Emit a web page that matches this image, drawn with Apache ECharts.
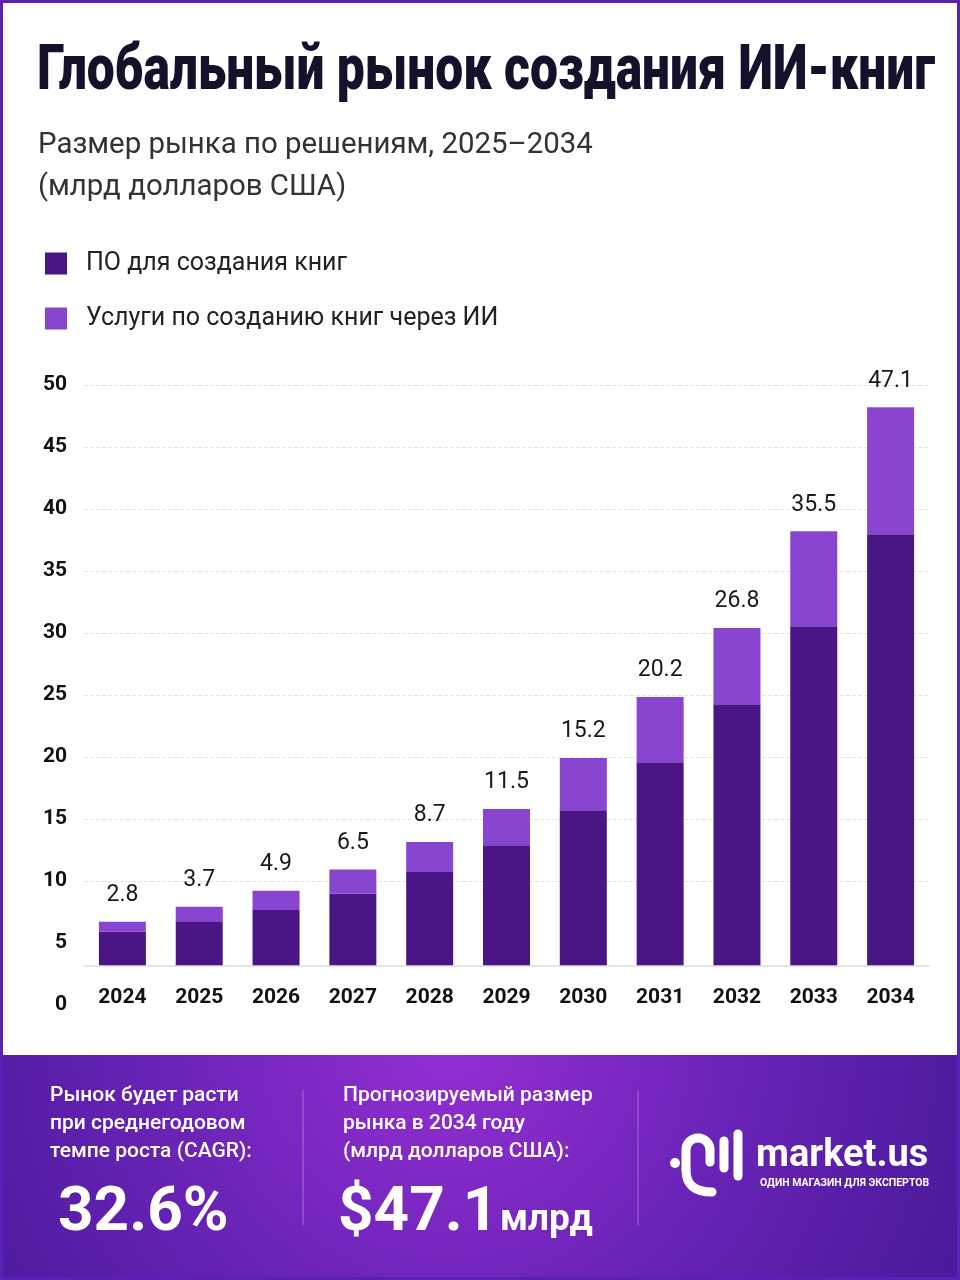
<!DOCTYPE html>
<html>
<head>
<meta charset="utf-8">
<script src="https://cdn.jsdelivr.net/npm/echarts@6/dist/echarts.min.js"></script>
<style>
  html, body { margin: 0; padding: 0; background: #fff; }
  #chart { width: 960px; height: 1280px; }
</style>
</head>
<body>
<div id="chart"></div>
<script>
// данные с картинки
const years = ['2024', '2025', '2026', '2027', '2028', '2029', '2030', '2031', '2032', '2033', '2034'];
// высоты сегментов, как они нарисованы (единицы оси от линии основания)
const software = [2.7, 3.55, 4.46, 5.78, 7.52, 9.68, 12.5, 16.37, 21.05, 27.34, 34.76];
const services = [0.82, 1.18, 1.56, 1.94, 2.42, 2.92, 4.22, 5.27, 6.15, 7.66, 10.24];
// подписи итогов над столбцами
const totals = ['2.8', '3.7', '4.9', '6.5', '8.7', '11.5', '15.2', '20.2', '26.8', '35.5', '47.1'];
const yTicks = [0, 5, 10, 15, 20, 25, 30, 35, 40, 45, 50];

const DARK = '#4a1584';
const LIGHT = '#8a45d0';
const FONT = 'Roboto, "Noto Sans", sans-serif';

const chart = echarts.init(document.getElementById('chart'));

const gridColors = yTicks.map((t, i) => (i < 2 ? 'rgba(0,0,0,0)' : '#e4e4e4'));

// ширина текста, чтобы сжать заголовок до нужной ширины
const measureCtx = document.createElement('canvas').getContext('2d');
function fitScale(text, font, width) {
    measureCtx.font = font;
    return Math.min(1, width / measureCtx.measureText(text).width);
}

// текст для graphic
function txt(x, y, text, font, extra, props) {
    return Object.assign({
        type: 'text', x: x, y: y, z: 10,
        style: Object.assign({ text: text, fill: '#fff', font: font, verticalAlign: 'top', align: 'left' }, extra || {})
    }, props || {});
}

const TITLE = 'Глобальный рынок создания ИИ-книг';
const TITLE_FONT = '900 63px ' + FONT;

const option = {
    backgroundColor: '#ffffff',
    textStyle: { fontFamily: FONT },
    legend: {
        orient: 'vertical',
        left: 45,
        top: 251,
        padding: 0,
        itemWidth: 22,
        itemHeight: 22,
        itemGap: 30,
        icon: 'rect',
        textStyle: { fontSize: 25, color: '#222', padding: [0, 0, 0, 14] },
        data: ['ПО для создания книг', 'Услуги по созданию книг через ИИ']
    },
    grid: {
        left: 84,
        right: 31,
        top: 385,
        bottom: 275,
        containLabel: false
    },
    xAxis: {
        type: 'category',
        data: years,
        axisTick: { show: false },
        axisLine: {
            onZero: true,
            onZeroAxisIndex: 1,
            lineStyle: { color: '#dcdcdc', width: 1.5 }
        },
        axisLabel: { color: '#111', fontSize: 21, fontWeight: 'bold', margin: -18 }
    },
    yAxis: [
        {
            type: 'value',
            min: 0,
            max: 50,
            interval: 5,
            axisLine: { show: false },
            axisTick: { show: false },
            axisLabel: { color: '#111', fontSize: 21, fontWeight: 'bold', margin: 17 },
            splitLine: {
                lineStyle: { color: gridColors, type: 'dashed', width: 1 }
            }
        },
        {
            // скрытая ось для столбцов: основание поднято над нулём
            type: 'value',
            min: -3.2,
            max: 46.8,
            show: false,
            splitLine: { show: false }
        }
    ],
    series: [
        {
            name: 'ПО для создания книг',
            type: 'bar',
            stack: 'total',
            yAxisIndex: 1,
            barWidth: 47,
            itemStyle: { color: DARK },
            data: software
        },
        {
            name: 'Услуги по созданию книг через ИИ',
            type: 'bar',
            stack: 'total',
            yAxisIndex: 1,
            barWidth: 47,
            itemStyle: { color: LIGHT },
            label: {
                show: true,
                position: 'top',
                distance: 15,
                fontSize: 23,
                color: '#1a1a1a',
                formatter: p => totals[p.dataIndex]
            },
            data: services
        }
    ],
    graphic: [
        // заголовок и подзаголовок
        txt(37, 42, TITLE, TITLE_FONT, { fill: '#14112b' },
            { scaleX: fitScale(TITLE, TITLE_FONT, 898), originX: 0 }),
        txt(38, 124, 'Размер рынка по решениям, 2025–2034\n(млрд долларов США)', '30px ' + FONT,
            { fill: '#333', lineHeight: 42 }, { scaleX: 0.98, originX: 0 }),
        {
            type: 'rect',
            z: 0,
            shape: { x: 0, y: 1055, width: 960, height: 225 },
            style: {
                fill: new echarts.graphic.RadialGradient(450, 1040, 540, [
                    { offset: 0, color: '#952fd4' },
                    { offset: 0.5, color: '#6c24b8' },
                    { offset: 1, color: '#4a1a9c' }
                ], true)
            }
        },
        // левая колонка
        txt(50, 1082, 'Рынок будет расти\nпри среднегодовом\nтемпе роста (CAGR):', '500 21px ' + FONT, { lineHeight: 28 }),
        txt(58, 1183, '32.6%', 'bold 62px ' + FONT),
        {
            type: 'line', z: 10,
            shape: { x1: 303, y1: 1090, x2: 303, y2: 1225 },
            style: { stroke: 'rgba(255,255,255,0.35)', lineWidth: 1 }
        },
        // средняя колонка
        txt(343, 1082, 'Прогнозируемый размер\nрынка в 2034 году\n(млрд долларов США):', '500 21px ' + FONT, { lineHeight: 28 }),
        txt(338, 1183, '$47.1', 'bold 62px ' + FONT),
        txt(500, 1202, 'млрд', 'bold 37px ' + FONT),
        {
            type: 'line', z: 10,
            shape: { x1: 638, y1: 1090, x2: 638, y2: 1225 },
            style: { stroke: 'rgba(255,255,255,0.35)', lineWidth: 1 }
        },
        // логотип
        {
            type: 'circle', z: 10,
            shape: { cx: 675, cy: 1163, r: 5 },
            style: { fill: '#fff' }
        },
        {
            type: 'arc', z: 10,
            shape: { cx: 698, cy: 1150, r: 12, startAngle: Math.PI, endAngle: Math.PI * 2, clockwise: true },
            style: { stroke: '#fff', fill: null, lineWidth: 9 }
        },
        {
            type: 'line', z: 10,
            shape: { x1: 686, y1: 1150, x2: 686, y2: 1170 },
            style: { stroke: '#fff', lineWidth: 9 }
        },
        {
            type: 'line', z: 10,
            shape: { x1: 710, y1: 1150, x2: 710, y2: 1162 },
            style: { stroke: '#fff', lineWidth: 9, lineCap: 'round' }
        },
        {
            type: 'bezierCurve', z: 10,
            shape: { x1: 686, y1: 1170, cpx1: 686, cpy1: 1192, x2: 712, y2: 1192 },
            style: { stroke: '#fff', fill: null, lineWidth: 9, lineCap: 'round' }
        },
        {
            type: 'line', z: 10,
            shape: { x1: 724, y1: 1141, x2: 724, y2: 1168 },
            style: { stroke: '#fff', lineWidth: 9, lineCap: 'round' }
        },
        {
            type: 'line', z: 10,
            shape: { x1: 738, y1: 1134, x2: 738, y2: 1176 },
            style: { stroke: '#fff', lineWidth: 9, lineCap: 'round' }
        },
        txt(756, 1137, 'market.us', 'bold 38px ' + FONT),
        txt(760, 1178, 'ОДИН МАГАЗИН ДЛЯ ЭКСПЕРТОВ', 'bold 10.5px ' + FONT),
        // рамка
        {
            type: 'rect', z: 100,
            shape: { x: 1.5, y: 1.5, width: 957, height: 1277 },
            style: { stroke: '#5b21b6', lineWidth: 3, fill: null }
        }
    ]
};

chart.setOption(option);

window.addEventListener('resize', () => {
    chart.resize();
});
</script>
</body>
</html>
